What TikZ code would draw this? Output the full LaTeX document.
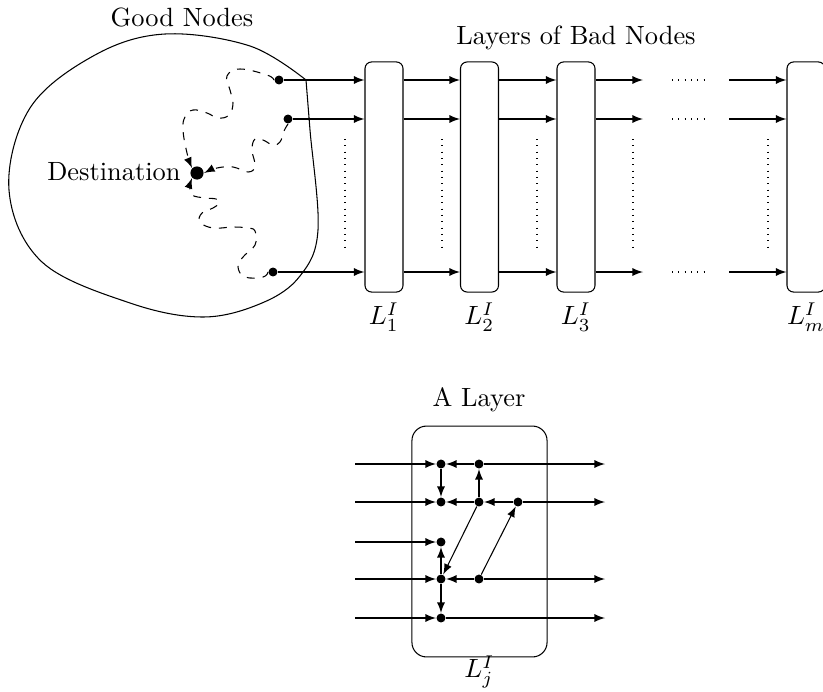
\documentclass[tikz,border=0pt]{standalone}
\usetikzlibrary{calc}
\begin{document}
\begin{tikzpicture}[x=0.379pt,y=-0.379pt,
  dot/.style={circle,fill,inner sep=0pt,minimum size=3.4pt},
  bigdot/.style={circle,fill,inner sep=0pt,minimum size=5pt},
  arr/.style={-latex},
  wig/.style={dashed,-latex},
  layerbox/.style={draw,rounded corners=2.5pt,minimum width=14.4pt,minimum height=87.2pt,inner sep=0pt},
  bigbox/.style={draw,rounded corners=5.5pt,minimum width=51.2pt,minimum height=87.5pt,inner sep=0pt},
  vdotsline/.style={dotted},
  hdotsline/.style={dotted}]
\useasboundingbox (0,0) rectangle (823,691);

% ---------- top: good nodes ----------
\node (good) at (182,17) {Good Nodes};
\draw plot[smooth,tension=0.6] coordinates {(306,80) (310,130) (318,230) (300,276) (262,303) (203,317) (130,303) (42,262) (9,190) (30,108) (95,55) (165,34) (250,46) (306,80)};

\node[dot] (s1) at (279,80) {};
\node[dot] (s2) at (288,119) {};
\node[dot] (s3) at (273,272) {};
\node[bigdot] (d) at (197,173) {};
\node[anchor=east,inner sep=0pt] (destlab) at (181,172) {Destination};

\draw[wig] plot[smooth,tension=0.7] coordinates {(s1.west) (267,75) (240,69) (227,76) (230,90) (233,103) (229,115) (218,118) (207,113) (193,110) (185,117) (183,130) (187,153) (d.north west)};
\draw[wig] plot[smooth,tension=0.7] coordinates {(s2.south) (284,131) (280,142) (273,145) (263,140) (255,139) (252,150) (255,166) (248,172) (233,167) (217,168) (d.east)};
\draw[wig] plot[smooth,tension=0.7] coordinates {(s3.west) (263,277) (245,277) (238,267) (243,257) (255,245) (255,231) (247,228) (233,227) (213,228) (200,222) (202,213) (213,208) (219,203) (216,199) (205,198) (192,195) (190,187) (d.south west)};

% ---------- top: layers of bad nodes ----------
\node (badtitle) at (576,38) {Layers of Bad Nodes};
\node[layerbox] (L1) at (384,177) {};
\node[layerbox] (L2) at (479.5,177) {};
\node[layerbox] (L3) at (576,177) {};
\node[layerbox] (Lm) at (806,177) {};
\node (l1) at (384,317) {$L^I_1$};
\node (l2) at (479.5,317) {$L^I_2$};
\node (l3) at (576,317) {$L^I_3$};
\node (lm) at (806,317) {$L^I_m$};

\foreach \s/\yy in {s1/80,s2/119,s3/272}{
  \draw[arr] (\s) -- (\s -| L1.west);
  \draw[arr] (L1.east |- \s) -- (L2.west |- \s);
  \draw[arr] (L2.east |- \s) -- (L3.west |- \s);
  \coordinate (e\s) at (643,\yy);
  \coordinate (f\s) at (729,\yy);
  \draw[arr] (L3.east |- \s) -- (e\s);
  \draw[hdotsline] (672,\yy) -- (708,\yy);
  \draw[arr] (f\s) -- (Lm.west |- \s);
}
\foreach \xx in {345,442,537,633,768}{
  \draw[vdotsline] (\xx,139) -- (\xx,248);
}

% ---------- bottom: a layer ----------
\node (alayer) at (479,400) {A Layer};
\node[bigbox] (LB) at (479.5,541.5) {};
\node (lj) at (479.5,672) {$L^I_j$};

\foreach \i/\yy in {1/464,2/502,3/542,4/579,5/618}{
  \node[dot] (A\i) at (441,\yy) {};
  \coordinate (in\i) at (355,\yy);
  \coordinate (out\i) at (605,\yy);
  \draw[arr] (in\i) -- (A\i);
}
\node[dot] (B1) at (479,464) {};
\node[dot] (B2) at (479,502) {};
\node[dot] (B4) at (479,579) {};
\node[dot] (C2) at (518,502) {};

\draw[arr] (B1) -- (out1);
\draw[arr] (C2) -- (out2);
\draw[arr] (B4) -- (out4);
\draw[arr] (A5) -- (out5);

\draw[arr] (B1) -- (A1);
\draw[arr] (B2) -- (A2);
\draw[arr] (C2) -- (B2);
\draw[arr] (B4) -- (A4);

\draw[arr] (A1) -- (A2);
\draw[arr] (B2) -- (B1);
\draw[arr] (A4) -- (A3);
\draw[arr] (A4) -- (A5);

\draw[arr] (B2) -- (A4);
\draw[arr] (B4) -- (C2);
\end{tikzpicture}
\end{document}
